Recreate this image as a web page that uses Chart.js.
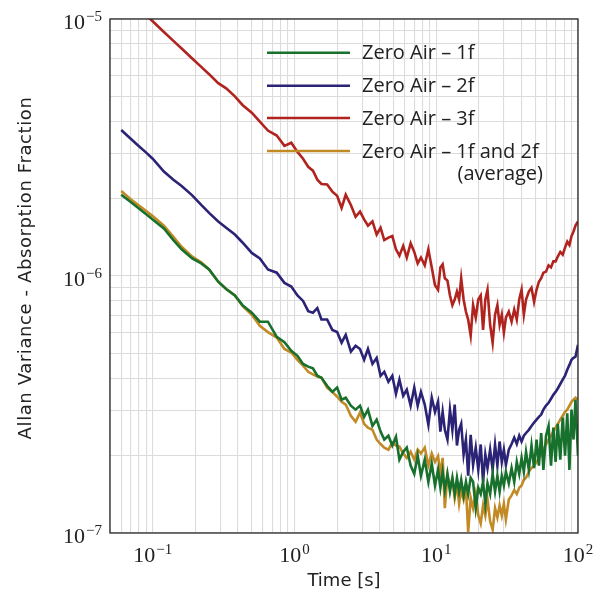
<!DOCTYPE html>
<html>
<head>
<meta charset="utf-8">
<script src="https://cdn.jsdelivr.net/npm/chart.js@4.4.1/dist/chart.umd.min.js"></script>
<style>
  html, body { margin: 0; padding: 0; background: #fff; }
  #wrap { width: 604px; height: 596px; }
</style>
</head>
<body>
<div id="wrap"><canvas id="allanChart" width="604" height="596"></canvas></div>
<script>
// averaging time tau [s]
const tau = [
  0.06, 0.07, 0.08, 0.09, 0.1, 0.12, 0.14, 0.16, 0.19, 0.22, 0.25, 0.29, 0.33, 0.38, 0.43, 0.5, 0.57, 0.65, 0.75, 0.85, 0.95,
  1.05, 1.15, 1.25, 1.35, 1.45, 1.55, 1.7, 1.85, 2.0, 2.15, 2.3, 2.5, 2.7, 2.9, 3.1, 3.3, 3.55, 3.8, 4.05, 4.3, 4.6, 4.9, 5.2, 5.5, 5.85, 6.2, 6.6, 7.0, 7.4, 7.8, 8.3, 8.8, 9.3, 9.8,
  10.3, 10.7, 11.1, 11.5, 12, 12.5, 13, 13.5, 14, 14.5, 15, 15.6, 16.2, 16.8, 17.5, 18.2, 19, 19.8, 20.6, 21.4, 22.2, 23, 24, 25, 26, 27, 28, 29, 30, 31,
  32.5, 34, 35.5, 37, 38.5, 40, 41.5, 43, 45, 47, 49, 51, 53, 55, 57, 59.5, 62, 64.5, 67, 69.5, 72, 75, 78, 81, 84, 87, 90, 93, 96, 100
];

const zeroAir1f = [
  2.07e-6, 1.94e-6, 1.83e-6, 1.74e-6, 1.66e-6, 1.53e-6, 1.38e-6, 1.27e-6, 1.17e-6, 1.12e-6, 1.06e-6, 9.5e-7, 8.9e-7, 8.4e-7, 7.7e-7, 7.2e-7, 6.64e-7, 6.64e-7, 5.8e-7, 5.53e-7, 5.12e-7,
  4.89e-7, 4.55e-7, 4.44e-7, 4.37e-7, 4.09e-7, 4.02e-7, 3.74e-7, 3.54e-7, 3.68e-7, 3.30e-7, 3.36e-7, 3.13e-7, 3.02e-7, 3.13e-7, 2.83e-7, 3.02e-7, 2.61e-7, 2.76e-7, 2.48e-7, 2.31e-7,
  2.39e-7, 2.19e-7, 2.37e-7, 1.93e-7, 2.07e-7, 2.15e-7, 1.83e-7, 1.70e-7, 2.0e-7, 1.67e-7, 1.93e-7, 1.58e-7, 1.86e-7, 1.53e-7,
  1.76e-7, 1.50e-7, 1.73e-7, 1.47e-7, 1.70e-7, 1.45e-7, 1.64e-7, 1.42e-7, 1.64e-7, 1.45e-7, 1.61e-7, 1.40e-7, 1.58e-7, 1.42e-7, 1.64e-7, 1.58e-7, 1.25e-7, 1.50e-7, 1.42e-7, 1.58e-7,
  1.30e-7, 1.56e-7, 1.42e-7, 1.70e-7, 1.45e-7, 1.67e-7, 1.45e-7, 1.67e-7, 1.53e-7, 1.73e-7, 1.56e-7, 1.79e-7, 1.58e-7, 1.89e-7, 1.70e-7, 1.96e-7, 1.73e-7, 2.07e-7, 1.76e-7, 2.19e-7,
  1.79e-7, 2.31e-7, 1.83e-7, 2.45e-7, 1.76e-7, 2.39e-7, 2.61e-7, 1.83e-7, 2.57e-7, 1.89e-7, 2.66e-7, 1.93e-7, 2.81e-7, 2.0e-7, 2.92e-7, 1.76e-7, 3.02e-7, 2.31e-7, 3.30e-7, 2.0e-7
];

const zeroAir2f = [
  3.70e-6, 3.42e-6, 3.20e-6, 3.02e-6, 2.86e-6, 2.55e-6, 2.37e-6, 2.24e-6, 2.06e-6, 1.89e-6, 1.76e-6, 1.63e-6, 1.54e-6, 1.45e-6, 1.35e-6, 1.23e-6, 1.17e-6, 1.06e-6, 1.03e-6, 9.4e-7, 9.1e-7,
  8.4e-7, 8.0e-7, 7.3e-7, 7.2e-7, 7.5e-7, 6.77e-7, 6.77e-7, 6.17e-7, 6.05e-7, 5.50e-7, 5.9e-7, 5.08e-7, 5.35e-7, 5.2e-7, 4.72e-7, 5.2e-7, 4.55e-7, 4.8e-7, 4.09e-7, 4.24e-7,
  3.88e-7, 4.09e-7, 3.48e-7, 3.95e-7, 3.42e-7, 3.61e-7, 3.13e-7, 3.68e-7, 3.13e-7, 3.54e-7, 3.16e-7, 2.64e-7, 3.36e-7, 2.96e-7,
  3.24e-7, 2.48e-7, 2.96e-7, 2.52e-7, 2.31e-7, 3.02e-7, 2.52e-7, 3.16e-7, 2.19e-7, 2.52e-7, 2.66e-7, 2.02e-7, 2.31e-7, 1.67e-7, 2.41e-7, 1.84e-7, 2.15e-7, 1.76e-7, 2.21e-7, 1.58e-7,
  2.02e-7, 1.79e-7, 2.11e-7, 1.76e-7, 2.21e-7, 1.83e-7, 2.27e-7, 1.89e-7, 2.11e-7, 1.84e-7, 2.11e-7, 2.22e-7, 2.35e-7, 2.22e-7, 2.39e-7, 2.27e-7, 2.39e-7, 2.45e-7, 2.52e-7, 2.61e-7,
  2.69e-7, 2.76e-7, 2.83e-7, 2.89e-7, 3.02e-7, 3.13e-7, 3.21e-7, 3.33e-7, 3.45e-7, 3.54e-7, 3.65e-7, 3.80e-7, 3.95e-7, 4.09e-7, 4.32e-7, 4.51e-7, 4.72e-7, 4.8e-7, 4.85e-7, 5.4e-7
];

const zeroAir3f = [
  1.28e-5, 1.18e-5, 1.10e-5, 1.035e-5, 9.8e-6, 8.9e-6, 8.22e-6, 7.68e-6, 7.02e-6, 6.51e-6, 6.10e-6, 5.63e-6, 5.37e-6, 5.0e-6, 4.63e-6, 4.32e-6, 3.99e-6, 3.68e-6, 3.52e-6, 3.21e-6, 3.30e-6,
  3.04e-6, 2.86e-6, 2.66e-6, 2.57e-6, 2.37e-6, 2.28e-6, 2.27e-6, 2.13e-6, 2.05e-6, 1.84e-6, 2.07e-6, 1.89e-6, 1.70e-6, 1.78e-6, 1.66e-6, 1.57e-6, 1.63e-6, 1.45e-6, 1.54e-6, 1.38e-6,
  1.41e-6, 1.43e-6, 1.27e-6, 1.20e-6, 1.31e-6, 1.18e-6, 1.34e-6, 1.24e-6, 1.12e-6, 1.18e-6, 1.10e-6, 1.27e-6, 1.08e-6, 9.2e-7,
  8.84e-7, 1.08e-6, 1.11e-6, 9.8e-7, 9.6e-7, 8.4e-7, 7.7e-7, 8.1e-7, 8.7e-7, 8.1e-7, 9.8e-7, 8.1e-7, 7.26e-7, 6.77e-7, 5.86e-7, 7.7e-7, 6.88e-7, 8.1e-7, 8.4e-7, 6.17e-7,
  8.1e-7, 8.84e-7, 6.46e-7, 5.50e-7, 7.07e-7, 7.7e-7, 6.46e-7, 7.07e-7, 6.02e-7, 6.88e-7, 7.26e-7, 6.64e-7, 7.40e-7, 6.77e-7, 8.1e-7, 8.84e-7, 7.07e-7, 8.1e-7, 8.7e-7, 9.0e-7,
  7.93e-7, 8.84e-7, 9.5e-7, 9.8e-7, 1.03e-6, 1.04e-6, 1.10e-6, 1.08e-6, 1.14e-6, 1.14e-6, 1.19e-6, 1.24e-6, 1.21e-6, 1.29e-6, 1.36e-6, 1.32e-6, 1.43e-6, 1.49e-6, 1.57e-6, 1.63e-6
];

const zeroAirAvg = [
  2.14e-6, 1.99e-6, 1.88e-6, 1.79e-6, 1.71e-6, 1.57e-6, 1.42e-6, 1.30e-6, 1.19e-6, 1.13e-6, 1.06e-6, 9.5e-7, 8.9e-7, 8.4e-7, 7.65e-7, 7.07e-7, 6.40e-7, 6.05e-7, 5.76e-7, 5.2e-7, 5.04e-7,
  4.72e-7, 4.48e-7, 4.24e-7, 4.14e-7, 4.06e-7, 4.02e-7, 3.68e-7, 3.54e-7, 3.39e-7, 3.24e-7, 3.16e-7, 2.86e-7, 2.71e-7, 2.94e-7, 2.66e-7, 2.57e-7, 2.52e-7, 2.31e-7, 2.22e-7, 2.15e-7,
  2.11e-7, 2.25e-7, 2.19e-7, 2.17e-7, 2.04e-7, 1.96e-7, 2.07e-7, 1.93e-7, 2.11e-7, 2.04e-7, 2.15e-7, 1.83e-7, 2.04e-7, 1.89e-7,
  1.99e-7, 1.70e-7, 1.96e-7, 1.25e-7, 1.67e-7, 1.53e-7, 1.61e-7, 1.37e-7, 1.56e-7, 1.30e-7, 1.47e-7, 1.35e-7, 1.50e-7, 1.01e-7, 1.37e-7, 1.25e-7, 1.42e-7, 1.17e-7, 1.09e-7, 1.28e-7,
  1.17e-7, 1.35e-7, 1.11e-7, 1.03e-7, 1.25e-7, 1.15e-7, 1.28e-7, 1.17e-7, 1.30e-7, 1.13e-7, 1.35e-7, 1.40e-7, 1.47e-7, 1.42e-7, 1.50e-7, 1.53e-7, 1.61e-7, 1.64e-7, 1.73e-7, 1.79e-7,
  1.83e-7, 1.89e-7, 1.96e-7, 2.02e-7, 2.11e-7, 2.21e-7, 2.31e-7, 2.39e-7, 2.48e-7, 2.57e-7, 2.66e-7, 2.76e-7, 2.86e-7, 2.96e-7, 3.02e-7, 3.13e-7, 3.24e-7, 3.30e-7, 3.36e-7, 3.30e-7
];

const seriesLabels = ['Zero Air \u2013 1f', 'Zero Air \u2013 2f', 'Zero Air \u2013 3f', 'Zero Air \u2013 1f and 2f'];
const seriesColors = ['#17702b', '#2b2376', '#b0231e', '#c28a25'];
const xTickExps = [-1, 0, 1, 2];
const yTickExps = [-7, -6, -5];

function toPoints(ys) {
  return tau.map((t, i) => ({ x: t, y: ys[i] }));
}

// gridlines at 1..9 x 10^n
function logGrid(lo, hi) {
  const out = [];
  for (let e = -8; e <= 3; e++) {
    for (let k = 1; k <= 9; k++) {
      const v = k * Math.pow(10, e);
      if (v >= lo * 0.999 && v <= hi * 1.001) out.push({ value: v });
    }
  }
  return out;
}

const decor = {
  id: 'decor',
  afterDraw(chart) {
    const ctx = chart.ctx;
    const a = chart.chartArea;
    const xs = chart.scales.x, ys = chart.scales.y;
    ctx.save();

    // frame
    ctx.strokeStyle = '#262626';
    ctx.lineWidth = 1.3;
    ctx.strokeRect(a.left, a.top, a.right - a.left, a.bottom - a.top);

    // tick labels 10^n
    ctx.fillStyle = '#222';
    const baseFont = '22px "Liberation Serif", serif';
    const expFont = '15px "Liberation Serif", serif';
    function powLabel(exp, x, yBase, align) {
      const expTxt = exp < 0 ? '\u2212' + (-exp) : String(exp);
      ctx.font = baseFont;
      const w1 = ctx.measureText('10').width;
      ctx.font = expFont;
      const w2 = ctx.measureText(expTxt).width + 1;
      let x0 = align === 'right' ? x - w1 - w2 : x - (w1 + w2) / 2;
      ctx.textAlign = 'left';
      ctx.textBaseline = 'alphabetic';
      ctx.font = baseFont;
      ctx.fillText('10', x0, yBase);
      ctx.font = expFont;
      ctx.fillText(expTxt, x0 + w1 + 1, yBase - 8);
    }
    xTickExps.forEach(e => powLabel(e, xs.getPixelForValue(Math.pow(10, e)), a.bottom + 29, 'center'));
    yTickExps.forEach(e => powLabel(e, 102, ys.getPixelForValue(Math.pow(10, e)) + 10, 'right'));

    // axis titles
    ctx.font = '18px "DejaVu Sans", sans-serif';
    ctx.textAlign = 'center';
    ctx.textBaseline = 'middle';
    ctx.fillText('Time [s]', (a.left + a.right) / 2, 581);
    ctx.save();
    ctx.translate(26, 268);
    ctx.rotate(-Math.PI / 2);
    ctx.letterSpacing = '0.6px';
    ctx.fillText('Allan Variance - Absorption Fraction', 0, 0);
    ctx.restore();

    // legend
    const rows = [52.7, 85.7, 118, 151];
    ctx.font = '20px "Open Sans", sans-serif';
    ctx.textAlign = 'left';
    ctx.lineWidth = 2.6;
    seriesLabels.forEach((lab, i) => {
      ctx.strokeStyle = seriesColors[i];
      ctx.beginPath();
      ctx.moveTo(267, rows[i]);
      ctx.lineTo(350, rows[i]);
      ctx.stroke();
      ctx.fillStyle = '#222';
      ctx.fillText(lab, 362, rows[i] + 1);
    });
    ctx.textAlign = 'right';
    ctx.fillText('(average)', 543, 174);
    ctx.restore();
  }
};

const ctx = document.getElementById('allanChart').getContext('2d');

const data = {
  datasets: [zeroAir1f, zeroAir2f, zeroAir3f, zeroAirAvg].map((ys, i) => ({
    label: seriesLabels[i],
    data: toPoints(ys),
    borderColor: seriesColors[i],
    backgroundColor: seriesColors[i],
    borderWidth: 2.6,
    pointRadius: 0,
    fill: false,
    tension: 0,
    clip: 0
  }))
};

const config = {
  type: 'line',
  data: data,
  options: {
    responsive: false,
    animation: false,
    layout: { padding: { left: 110, right: 26, top: 19, bottom: 63 } },
    plugins: {
      legend: { display: false },
      tooltip: { enabled: false }
    },
    scales: {
      x: {
        type: 'logarithmic',
        min: 0.05,
        max: 100,
        afterBuildTicks: s => { s.ticks = logGrid(0.05, 100); },
        ticks: { display: false },
        grid: { color: '#dcdcdc', lineWidth: 1.1, drawTicks: false },
        border: { display: false }
      },
      y: {
        type: 'logarithmic',
        min: 1e-7,
        max: 1e-5,
        afterBuildTicks: s => { s.ticks = logGrid(1e-7, 1e-5); },
        ticks: { display: false },
        grid: { color: '#dcdcdc', lineWidth: 1.1, drawTicks: false },
        border: { display: false }
      }
    }
  },
  plugins: [decor]
};

const allanChart = new Chart(ctx, config);
</script>
</body>
</html>
